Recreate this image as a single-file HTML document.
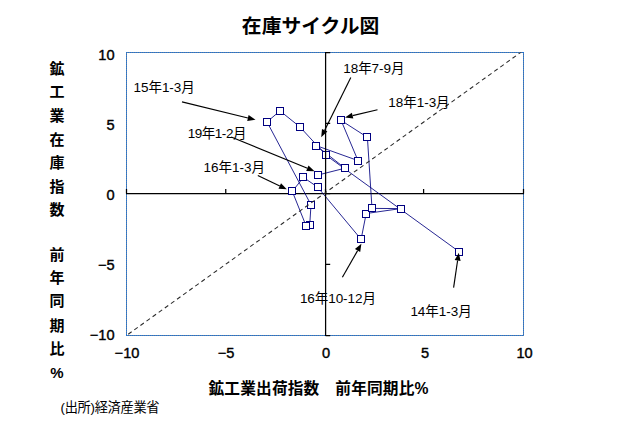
<!DOCTYPE html>
<html lang="ja"><head><meta charset="utf-8"><title>在庫サイクル図</title>
<style>html,body{margin:0;padding:0;background:#fff;overflow:hidden}svg{display:block}body{font-family:"Liberation Sans",sans-serif}</style></head>
<body>
<svg width="640" height="425" viewBox="0 0 640 425" role="img" aria-label="在庫サイクル図">
<rect width="640" height="425" fill="#fff"/>
<rect x="126.5" y="52.5" width="397.0" height="283.0" fill="none" stroke="#60829f" stroke-width="1"/>
<path d="M126.0 52.5H524.0M126.0 335.5H524.0M126.5 52.0V336.0M523.5 52.0V336.0" fill="none" stroke="#1e6fd6" stroke-width="1" stroke-dasharray="1 1"/>
<path d="M126.0 193.55H524.0M126.5 193.55v-4.6M225.75 193.55v-4.6M325.5 193.55v-4.6M423.6 193.55v-4.6M523.5 193.55v-4.6" fill="none" stroke="#000" stroke-width="1.25"/>
<path d="M459.4 251.9L326.1 155.3L300.0 127.0L280.0 110.9L267.0 121.9L311.0 204.8L309.7 225.4L306.2 226.1L292.3 191.4L303.4 177.4L317.5 187.0L361.1 239.3L366.2 213.5L400.6 208.6L372.0 208.4L367.4 137.3L341.1 120.4L358.0 160.6L316.2 145.6L345.0 168.2L318.5 174.9" fill="none" stroke="#000080" stroke-width="0.85" stroke-linejoin="round"/>
<rect x="455.5" y="248.5" width="7" height="7" fill="#fff" stroke="#000080" stroke-width="1"/>
<rect x="322.5" y="151.5" width="7" height="7" fill="#fff" stroke="#000080" stroke-width="1"/>
<rect x="296.5" y="123.5" width="7" height="7" fill="#fff" stroke="#000080" stroke-width="1"/>
<rect x="276.5" y="107.5" width="7" height="7" fill="#fff" stroke="#000080" stroke-width="1"/>
<rect x="263.5" y="118.5" width="7" height="7" fill="#fff" stroke="#000080" stroke-width="1"/>
<rect x="307.5" y="201.5" width="7" height="7" fill="#fff" stroke="#000080" stroke-width="1"/>
<rect x="306.5" y="221.5" width="7" height="7" fill="#fff" stroke="#000080" stroke-width="1"/>
<rect x="302.5" y="222.5" width="7" height="7" fill="#fff" stroke="#000080" stroke-width="1"/>
<rect x="288.5" y="187.5" width="7" height="7" fill="#fff" stroke="#000080" stroke-width="1"/>
<rect x="299.5" y="173.5" width="7" height="7" fill="#fff" stroke="#000080" stroke-width="1"/>
<rect x="314.5" y="183.5" width="7" height="7" fill="#fff" stroke="#000080" stroke-width="1"/>
<rect x="357.5" y="235.5" width="7" height="7" fill="#fff" stroke="#000080" stroke-width="1"/>
<rect x="362.5" y="210.5" width="7" height="7" fill="#fff" stroke="#000080" stroke-width="1"/>
<rect x="397.5" y="205.5" width="7" height="7" fill="#fff" stroke="#000080" stroke-width="1"/>
<rect x="368.5" y="204.5" width="7" height="7" fill="#fff" stroke="#000080" stroke-width="1"/>
<rect x="363.5" y="133.5" width="7" height="7" fill="#fff" stroke="#000080" stroke-width="1"/>
<rect x="337.5" y="116.5" width="7" height="7" fill="#fff" stroke="#000080" stroke-width="1"/>
<rect x="354.5" y="157.5" width="7" height="7" fill="#fff" stroke="#000080" stroke-width="1"/>
<rect x="312.5" y="142.5" width="7" height="7" fill="#fff" stroke="#000080" stroke-width="1"/>
<rect x="341.5" y="164.5" width="7" height="7" fill="#fff" stroke="#000080" stroke-width="1"/>
<rect x="314.5" y="171.5" width="7" height="7" fill="#fff" stroke="#000080" stroke-width="1"/>
<path d="M325.6 52.0V336.0M325.6 52.5h4.6M325.6 123.4h4.6M325.6 193.55h4.6M325.6 264.4h4.6M325.6 335.5h4.6" fill="none" stroke="#000" stroke-width="1.25"/>
<clipPath id="plot"><rect x="126.5" y="52.5" width="397.0" height="283.0"/></clipPath>
<line x1="126.5" y1="335.5" x2="523.5" y2="50.4" clip-path="url(#plot)" stroke="#2a2a2a" stroke-width="1.05" stroke-dasharray="4.25 3.26" stroke-dashoffset="-2.1"/>
<path d="M182.0 101.9L247.9 118.0" stroke="#000" stroke-width="1.15" fill="none"/><path d="M255.5 119.8L247.2 120.9L248.6 115.0z" fill="#000"/>
<path d="M231.2 137.0L307.4 168.2" stroke="#000" stroke-width="1.15" fill="none"/><path d="M314.6 171.2L306.2 171.0L308.5 165.5z" fill="#000"/>
<path d="M257.8 175.5L279.8 185.9" stroke="#000" stroke-width="1.15" fill="none"/><path d="M286.8 189.3L278.5 188.7L281.0 183.2z" fill="#000"/>
<path d="M350.8 77.5L324.7 130.2" stroke="#000" stroke-width="1.15" fill="none"/><path d="M321.2 137.2L322.0 128.9L327.4 131.5z" fill="#000"/>
<path d="M377.5 109.8L352.6 115.6" stroke="#000" stroke-width="1.15" fill="none"/><path d="M345.0 117.4L351.9 112.7L353.3 118.5z" fill="#000"/>
<path d="M342.4 277.3L357.6 250.6" stroke="#000" stroke-width="1.15" fill="none"/><path d="M361.4 243.8L360.2 252.1L354.9 249.1z" fill="#000"/>
<path d="M453.6 287.6L457.6 260.5" stroke="#000" stroke-width="1.15" fill="none"/><path d="M458.8 252.8L460.6 261.0L454.7 260.1z" fill="#000"/>
<g font-family="'Liberation Sans', 'Noto Sans CJK JP', sans-serif" font-size="13.5px" fill="#000">
<text x="133.5" y="91.85" textLength="61.3" lengthAdjust="spacing">15年1-3月</text>
<text x="187.8" y="137.6" textLength="58.6" lengthAdjust="spacing">19年1-2月</text>
<text x="203.6" y="171.75" textLength="61.3" lengthAdjust="spacing">16年1-3月</text>
<text x="343.2" y="73.15" textLength="61.3" lengthAdjust="spacing">18年7-9月</text>
<text x="388.3" y="106.85" textLength="61.3" lengthAdjust="spacing">18年1-3月</text>
<text x="299.9" y="303.15" textLength="76" lengthAdjust="spacing">16年10-12月</text>
<text x="410.4" y="315.85" textLength="61.3" lengthAdjust="spacing">14年1-3月</text>
</g>
<text x="310.6" y="33.4" text-anchor="middle" font-family="'Liberation Sans', 'Noto Sans CJK JP', sans-serif" font-size="19.8px" font-weight="bold" fill="#000">在庫サイクル図</text>
<text x="208.5" y="394" textLength="220" lengthAdjust="spacing" font-family="'Liberation Sans', 'Noto Sans CJK JP', sans-serif" font-size="15.7px" font-weight="bold" fill="#000">鉱工業出荷指数　前年同期比%</text>
<text x="60.5" y="412" textLength="99" lengthAdjust="spacing" font-family="'Liberation Sans', 'Noto Sans CJK JP', sans-serif" font-size="13.2px" fill="#000">(出所)経済産業省</text>
<text text-anchor="middle" font-family="'Liberation Sans', 'Noto Sans CJK JP', sans-serif" font-size="15px" font-weight="bold" fill="#000"><tspan x="56.9" y="73.6">鉱</tspan><tspan x="56.9" y="97">工</tspan><tspan x="56.9" y="120.6">業</tspan><tspan x="56.9" y="144.6">在</tspan><tspan x="56.9" y="168">庫</tspan><tspan x="56.9" y="191.7">指</tspan><tspan x="56.9" y="215.2">数</tspan><tspan x="56.9" y="260.2">前</tspan><tspan x="56.9" y="283.3">年</tspan><tspan x="56.9" y="306.4">同</tspan><tspan x="56.9" y="330.8">期</tspan><tspan x="56.9" y="354">比</tspan><tspan x="56.9" y="377.5">%</tspan></text>
<g font-family="'Liberation Sans', sans-serif" font-size="14.6px" fill="#000" stroke="#000" stroke-width="0.4" stroke-linejoin="round">
<text x="114.6" y="59.5" text-anchor="end">10</text>
<text x="114.6" y="129.7" text-anchor="end">5</text>
<text x="114.6" y="199.7" text-anchor="end">0</text>
<text x="114.6" y="270.3" text-anchor="end">−5</text>
<text x="114.6" y="340.4" text-anchor="end">−10</text>
<text x="127.0" y="357.7" text-anchor="middle">−10</text>
<text x="226.0" y="357.7" text-anchor="middle">−5</text>
<text x="326.0" y="357.7" text-anchor="middle">0</text>
<text x="425.0" y="357.7" text-anchor="middle">5</text>
<text x="524.6" y="357.7" text-anchor="middle">10</text>
</g>
</svg>
</body></html>
